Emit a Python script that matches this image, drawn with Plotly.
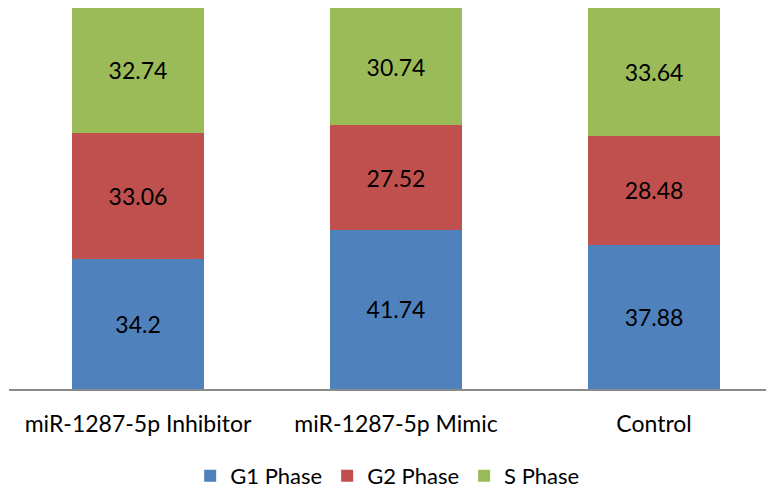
import plotly.graph_objects as go

categories = ["miR-1287-5p Inhibitor", "miR-1287-5p Mimic", "Control"]
g1_phase = [34.2, 41.74, 37.88]
g2_phase = [33.06, 27.52, 28.48]
s_phase = [32.74, 30.74, 33.64]

series = [
    ("G1 Phase", g1_phase, "#4F81BD"),
    ("G2 Phase", g2_phase, "#C0504D"),
    ("S Phase", s_phase, "#9BBB59"),
]

xpos = list(range(len(categories)))
FONT = "Lato"
FS = 23

fig = go.Figure()
for name, vals, col in series:
    fig.add_trace(go.Bar(
        x=xpos, y=vals, name=name, marker=dict(color=col, line=dict(width=0)),
        width=0.508, text=[str(v) for v in vals], textposition="inside",
        insidetextanchor="middle", textfont=dict(family=FONT, size=FS, color="black"),
        hoverinfo="skip",
    ))

fig.update_layout(
    barmode="stack",
    width=774, height=492,
    margin=dict(l=1, r=8, t=0, b=111, autoexpand=False),
    paper_bgcolor="white", plot_bgcolor="white",
    font=dict(family=FONT, size=FS, color="black"),
    showlegend=True,
    legend=dict(orientation="h", x=0.495, xanchor="center", y=-0.228, yanchor="middle",
                font=dict(family=FONT, size=22), traceorder="normal", itemwidth=30),
    xaxis=dict(tickmode="array", tickvals=xpos, ticktext=categories,
               range=[-0.5, 2.465], showline=True, linecolor="#8a8a8a", linewidth=1.5,
               showgrid=False, zeroline=False, ticks="", ticklabelstandoff=14,
               automargin=False,
               tickfont=dict(family=FONT, size=FS, color="black")),
    yaxis=dict(range=[0, 100], visible=False, showgrid=False, zeroline=False, automargin=False),
)

fig.write_html("out.html")
